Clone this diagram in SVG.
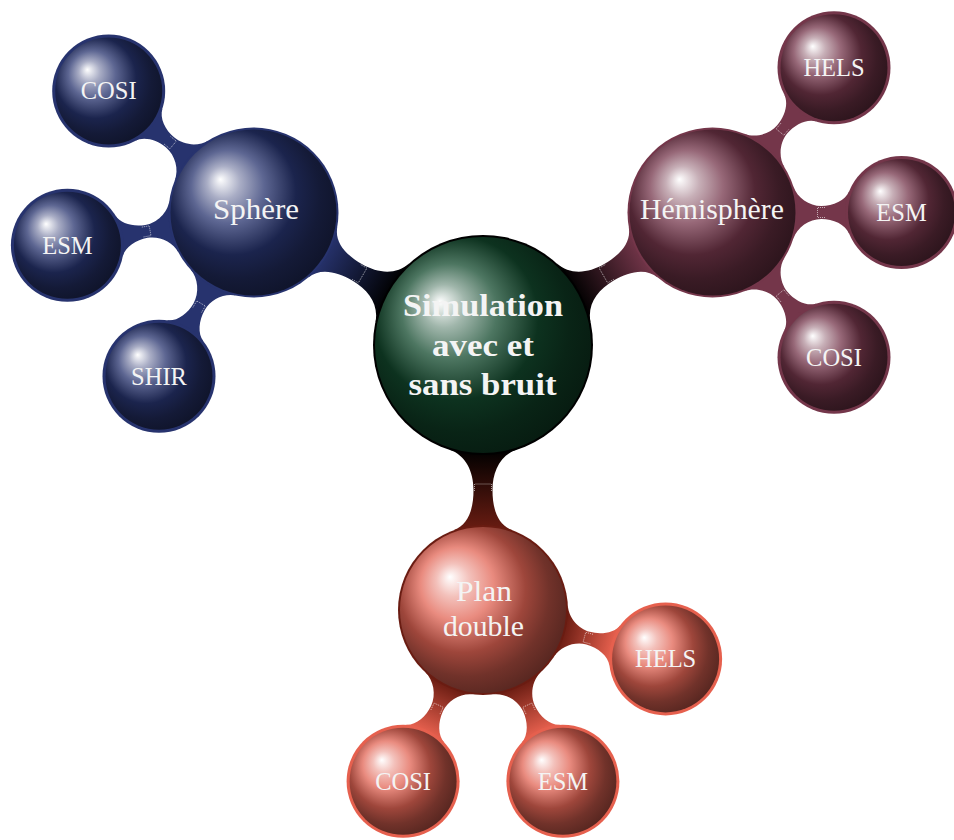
<svg xmlns="http://www.w3.org/2000/svg" xmlns:xlink="http://www.w3.org/1999/xlink" width="954" height="840" viewBox="0 0 954 840">
<style>
.lbl{font-family:"Liberation Serif","Times New Roman",serif;fill:#f4f4f4;text-anchor:middle}
.leaf{font-size:24.5px}
.br{font-size:29px}
.ctr{font-size:31px;font-weight:bold}
.mark{fill:none;stroke:#ffffff;stroke-width:0.7;stroke-dasharray:1 1;opacity:0.85}
</style>
<defs>
<radialGradient id="ballS" cx="0.5" cy="0.5" r="1" fx="0.3" fy="0.3">
<stop offset="0" stop-color="#ffffff"/><stop offset="0.1" stop-color="#a9adc5"/><stop offset="0.22" stop-color="#5d6692"/><stop offset="0.38" stop-color="#1b244d"/><stop offset="0.5" stop-color="#141a37"/><stop offset="1" stop-color="#000000"/>
</radialGradient>
<radialGradient id="ballH" cx="0.5" cy="0.5" r="1" fx="0.3" fy="0.3">
<stop offset="0" stop-color="#ffffff"/><stop offset="0.1" stop-color="#c7afb7"/><stop offset="0.22" stop-color="#976878"/><stop offset="0.38" stop-color="#512634"/><stop offset="0.5" stop-color="#3a1b25"/><stop offset="1" stop-color="#000000"/>
</radialGradient>
<radialGradient id="ballP" cx="0.5" cy="0.5" r="1" fx="0.3" fy="0.3">
<stop offset="0" stop-color="#ffffff"/><stop offset="0.1" stop-color="#f3c1bb"/><stop offset="0.22" stop-color="#e98b7f"/><stop offset="0.38" stop-color="#9e463b"/><stop offset="0.5" stop-color="#71322a"/><stop offset="1" stop-color="#000000"/>
</radialGradient>
<radialGradient id="ballC" cx="0.5" cy="0.5" r="1" fx="0.3" fy="0.3">
<stop offset="0" stop-color="#ffffff"/><stop offset="0.1" stop-color="#a0b6ab"/><stop offset="0.22" stop-color="#4d7661"/><stop offset="0.38" stop-color="#0d321f"/><stop offset="0.5" stop-color="#092416"/><stop offset="1" stop-color="#000000"/>
</radialGradient>
<linearGradient id="c1s" gradientUnits="userSpaceOnUse" x1="105" y1="0" x2="185" y2="0"><stop offset="0" stop-color="#000000"/><stop offset="1" stop-color="#27336e"/></linearGradient>
<linearGradient id="c1h" gradientUnits="userSpaceOnUse" x1="105" y1="0" x2="185" y2="0"><stop offset="0" stop-color="#000000"/><stop offset="1" stop-color="#74364a"/></linearGradient>
<linearGradient id="c1p" gradientUnits="userSpaceOnUse" x1="105" y1="0" x2="185" y2="0"><stop offset="0" stop-color="#000000"/><stop offset="1" stop-color="#6a1c12"/></linearGradient>
<linearGradient id="c2p" gradientUnits="userSpaceOnUse" x1="82" y1="0" x2="135" y2="0"><stop offset="0" stop-color="#6a1c12"/><stop offset="1" stop-color="#e6604e"/></linearGradient>
<path id="bar1" d="M104.6,34 C110.2,16.9 127,9.5 145,9.5 C163,9.5 179.6,14.1 185.1,29.1 L185.1,-29.1 C179.6,-14.1 163,-9.5 145,-9.5 C127,-9.5 110.2,-16.9 104.6,-34 Z"/>
<path id="bar2" d="M80.8,26.3 C84.5,14.9 96.75,6.5 108.75,6.5 C120.75,6.5 132.85,11.9 136.6,21.2 L136.6,-21.2 C132.85,-11.9 120.75,-6.5 108.75,-6.5 C96.75,-6.5 84.5,-14.9 80.8,-26.3 Z"/>
<path id="mark1" class="mark" d="M146,-8.5 H139 V8.5 H146"/>
<path id="mark2" class="mark" d="M112.5,-5 H105 V5 H112.5"/>
</defs>
<rect x="0" y="0" width="954" height="840" fill="#ffffff"/>
<g id="connectors">
<g transform="translate(483,345)">
<use xlink:href="#bar1" href="#bar1" transform="rotate(-150)" fill="url(#c1s)"/>
<use xlink:href="#bar1" href="#bar1" transform="rotate(-30)" fill="url(#c1h)"/>
<use xlink:href="#bar1" href="#bar1" transform="rotate(90)" fill="url(#c1p)"/>
<use xlink:href="#mark1" href="#mark1" transform="rotate(-150)"/>
<use xlink:href="#mark1" href="#mark1" transform="rotate(-30)"/>
<use xlink:href="#mark1" href="#mark1" transform="rotate(90)"/>
</g>
<g transform="translate(253.5,212.5)" fill="#27336e">
<use xlink:href="#bar2" href="#bar2" transform="rotate(-140)"/>
<use xlink:href="#bar2" href="#bar2" transform="rotate(170)"/>
<use xlink:href="#bar2" href="#bar2" transform="rotate(120)"/>
<use xlink:href="#mark2" href="#mark2" transform="rotate(-140)"/>
<use xlink:href="#mark2" href="#mark2" transform="rotate(170)"/>
<use xlink:href="#mark2" href="#mark2" transform="rotate(120)"/>
</g>
<g transform="translate(712.5,212.5)" fill="#74364a">
<use xlink:href="#bar2" href="#bar2" transform="rotate(-50)"/>
<use xlink:href="#bar2" href="#bar2" transform="rotate(0)"/>
<use xlink:href="#bar2" href="#bar2" transform="rotate(50)"/>
<use xlink:href="#mark2" href="#mark2" transform="rotate(-50)"/>
<use xlink:href="#mark2" href="#mark2" transform="rotate(0)"/>
<use xlink:href="#mark2" href="#mark2" transform="rotate(50)"/>
</g>
<g transform="translate(483,610)">
<use xlink:href="#bar2" href="#bar2" transform="rotate(15)" fill="url(#c2p)"/>
<use xlink:href="#bar2" href="#bar2" transform="rotate(65)" fill="url(#c2p)"/>
<use xlink:href="#bar2" href="#bar2" transform="rotate(115)" fill="url(#c2p)"/>
<use xlink:href="#mark2" href="#mark2" transform="rotate(15)"/>
<use xlink:href="#mark2" href="#mark2" transform="rotate(65)"/>
<use xlink:href="#mark2" href="#mark2" transform="rotate(115)"/>
</g>
</g>
<g id="n-center">
<circle cx="483" cy="345" r="110" fill="#000000"/>
<circle cx="483" cy="345" r="108" fill="url(#ballC)"/>
<text class="lbl ctr" x="483" y="316" textLength="160" lengthAdjust="spacingAndGlyphs">Simulation</text>
<text class="lbl ctr" x="483" y="356" textLength="102" lengthAdjust="spacingAndGlyphs">avec et</text>
<text class="lbl ctr" x="482.5" y="395" textLength="148" lengthAdjust="spacingAndGlyphs">sans bruit</text>
</g>
<g id="n-sphere">
<circle cx="253.5" cy="212.5" r="85" fill="#27336e"/>
<circle cx="253.5" cy="212.5" r="83" fill="url(#ballS)"/>
<text class="lbl br" x="256" y="219.3" textLength="86" lengthAdjust="spacingAndGlyphs">Sphère</text>
</g>
<g id="n-sphere-cosi">
<circle cx="108.7" cy="91" r="56.5" fill="#27336e"/>
<circle cx="108.7" cy="91" r="53.5" fill="url(#ballS)"/>
<text class="lbl leaf" x="108.7" y="99.3">COSI</text>
</g>
<g id="n-sphere-esm">
<circle cx="67.4" cy="245.3" r="56.5" fill="#27336e"/>
<circle cx="67.4" cy="245.3" r="53.5" fill="url(#ballS)"/>
<text class="lbl leaf" x="67.4" y="253.6">ESM</text>
</g>
<g id="n-sphere-shir">
<circle cx="159" cy="376.2" r="56.5" fill="#27336e"/>
<circle cx="159" cy="376.2" r="53.5" fill="url(#ballS)"/>
<text class="lbl leaf" x="159" y="384.5">SHIR</text>
</g>
<g id="n-hemi">
<circle cx="712.5" cy="212.5" r="85" fill="#74364a"/>
<circle cx="712.5" cy="212.5" r="83" fill="url(#ballH)"/>
<text class="lbl br" x="712" y="219.3" textLength="144" lengthAdjust="spacingAndGlyphs">Hémisphère</text>
</g>
<g id="n-hemi-hels">
<circle cx="834" cy="67.7" r="56.5" fill="#74364a"/>
<circle cx="834" cy="67.7" r="53.5" fill="url(#ballH)"/>
<text class="lbl leaf" x="834" y="76">HELS</text>
</g>
<g id="n-hemi-esm">
<circle cx="901.5" cy="212.5" r="56.5" fill="#74364a"/>
<circle cx="901.5" cy="212.5" r="53.5" fill="url(#ballH)"/>
<text class="lbl leaf" x="901.5" y="220.8">ESM</text>
</g>
<g id="n-hemi-cosi">
<circle cx="834" cy="357.3" r="56.5" fill="#74364a"/>
<circle cx="834" cy="357.3" r="53.5" fill="url(#ballH)"/>
<text class="lbl leaf" x="834" y="365.6">COSI</text>
</g>
<g id="n-plan">
<circle cx="483" cy="610" r="85" fill="#6a1c12"/>
<circle cx="483" cy="610" r="83" fill="url(#ballP)"/>
<text class="lbl br" x="484" y="600.7" textLength="56" lengthAdjust="spacingAndGlyphs">Plan</text>
<text class="lbl br" x="483.4" y="636" textLength="81" lengthAdjust="spacingAndGlyphs">double</text>
</g>
<g id="n-plan-hels">
<circle cx="665.6" cy="658.9" r="56.5" fill="#e6604e"/>
<circle cx="665.6" cy="658.9" r="53.5" fill="url(#ballP)"/>
<text class="lbl leaf" x="665.6" y="667.2">HELS</text>
</g>
<g id="n-plan-esm">
<circle cx="562.9" cy="781.3" r="56.5" fill="#e6604e"/>
<circle cx="562.9" cy="781.3" r="53.5" fill="url(#ballP)"/>
<text class="lbl leaf" x="562.9" y="789.6">ESM</text>
</g>
<g id="n-plan-cosi">
<circle cx="403.1" cy="781.3" r="56.5" fill="#e6604e"/>
<circle cx="403.1" cy="781.3" r="53.5" fill="url(#ballP)"/>
<text class="lbl leaf" x="403.1" y="789.6">COSI</text>
</g>
</svg>
